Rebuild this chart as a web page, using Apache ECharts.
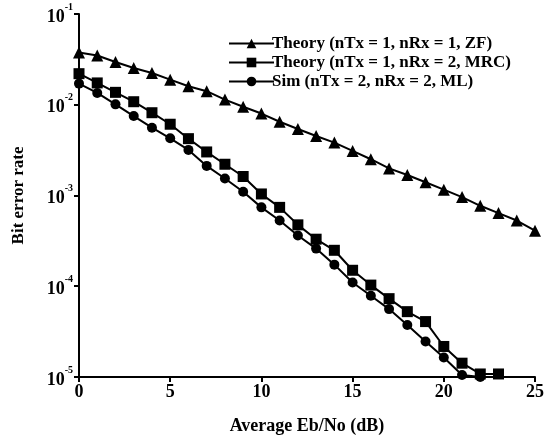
<!DOCTYPE html>
<html>
	<head>
		<meta charset="utf-8">
		<title></title>
		<script src="https://cdn.jsdelivr.net/npm/echarts@6/dist/echarts.min.js"></script>
		<style type="text/css">
			body {
				margin: 0;
				background: #fff;
			}

			#main {
				width: 547px;
				height: 440px;
			}
		</style>
	</head>
	<body>
		<div id="main"></div>
		<script>
			// Eb/No (dB)
			var snr = [0, 1, 2, 3, 4, 5, 6, 7, 8, 9, 10, 11, 12, 13, 14, 15, 16, 17, 18, 19, 20, 21, 22, 23, 24, 25];
			var names = ['Theory (nTx = 1, nRx = 1, ZF)', 'Theory (nTx = 1, nRx = 2, MRC)', 'Sim (nTx = 2, nRx = 2, ML)'];
			// BER
			var berZF = [0.0377, 0.0349, 0.0296, 0.0254, 0.0224, 0.0189, 0.0160, 0.0141, 0.0114, 0.0095,
				0.0080, 0.0065, 0.0054, 0.00452, 0.00383, 0.0031, 0.00251, 0.00199, 0.00168, 0.0014,
				0.00116, 0.00096, 0.00077, 0.00064, 0.00053, 0.00041];
			var berMRC = [0.0220, 0.0174, 0.0137, 0.0108, 0.00817, 0.0061, 0.00423, 0.00302, 0.00221, 0.00162,
				0.00104, 0.00074, 0.000475, 0.00033, 0.000249, 0.00015, 0.000103, 0.000073, 0.0000525, 0.0000408,
				0.0000217, 0.0000142, 0.0000108, 0.0000108, null, null];
			var berML = [0.0171, 0.0135, 0.0101, 0.0075, 0.00559, 0.00427, 0.00318, 0.00212, 0.00154, 0.0011,
				0.00074, 0.00053, 0.000363, 0.00026, 0.000173, 0.00011, 0.0000785, 0.000056, 0.0000374, 0.0000246,
				0.0000164, 0.0000105, 0.00001, null, null, null];
			var xTicks = [0, 5, 10, 15, 20, 25];

			var font = 'Liberation Serif';

			function pairs(arr) {
				var out = [];
				arr.forEach((v, i) => {
					if (v != null) out.push([snr[i], v]);
				});
				return out;
			}

			function mkSeries(name, data, symbol, size) {
				return {
					name: name,
					type: 'line',
					data: pairs(data),
					symbol: symbol,
					symbolSize: size,
					showSymbol: true,
					clip: false,
					animation: false,
					lineStyle: {
						color: '#000',
						width: 2
					},
					itemStyle: {
						color: '#000'
					}
				};
			}

			var chart = echarts.init(document.getElementById('main'));
			chart.setOption({
				animation: false,
				grid: {
					left: 79,
					right: 7,
					top: 14,
					bottom: 61
				},
				legend: {
					orient: 'vertical',
					left: 223,
					top: 30,
					itemWidth: 45,
					itemHeight: 12,
					itemGap: 2,
					textStyle: {
						fontFamily: font,
						fontSize: 17,
						fontWeight: 'bold',
						color: '#000',
						padding: [0, 0, 0, -7]
					},
					data: names
				},
				xAxis: {
					type: 'value',
					min: 0,
					max: 25,
					interval: 5,
					name: 'Average Eb/No (dB)',
					nameLocation: 'middle',
					nameGap: 40,
					nameTextStyle: {
						fontFamily: font,
						fontSize: 18,
						fontWeight: 'bold',
						color: '#000'
					},
					axisLine: {
						lineStyle: {
							color: '#000',
							width: 2
						}
					},
					axisTick: {
						length: 5,
						lineStyle: {
							width: 2
						}
					},
					axisLabel: {
						fontFamily: font,
						fontSize: 18,
						fontWeight: 'bold',
						color: '#000',
						margin: 6,
						formatter: v => xTicks.indexOf(v) >= 0 ? String(v) : ''
					},
					splitLine: {
						show: false
					}
				},
				yAxis: {
					type: 'log',
					logBase: 10,
					min: 1e-5,
					max: 1e-1,
					name: 'Bit error rate',
					nameLocation: 'middle',
					nameGap: 52,
					nameTextStyle: {
						fontFamily: font,
						fontSize: 17,
						fontWeight: 'bold',
						color: '#000'
					},
					axisLine: {
						show: true,
						lineStyle: {
							color: '#000',
							width: 2
						}
					},
					axisTick: {
						show: true,
						length: 5,
						lineStyle: {
							width: 2
						}
					},
					minorTick: {
						show: false
					},
					axisLabel: {
						margin: 6,
						formatter: function(v) {
							return '{b|10}{s|' + Math.round(Math.log10(v)) + '}';
						},
						rich: {
							b: {
								fontFamily: font,
								fontSize: 18,
								fontWeight: 'bold',
								color: '#000',
								padding: [6, 0, 0, 0]
							},
							s: {
								fontFamily: font,
								fontSize: 10,
								fontWeight: 'bold',
								color: '#000',
								verticalAlign: 'top',
								padding: [0, 0, 6, 0]
							}
						}
					},
					splitLine: {
						show: false
					}
				},
				series: [
					mkSeries(names[0], berZF, 'triangle', 12),
					mkSeries(names[1], berMRC, 'rect', 11),
					mkSeries(names[2], berML, 'circle', 10)
				]
			});
		</script>
	</body>
</html>
